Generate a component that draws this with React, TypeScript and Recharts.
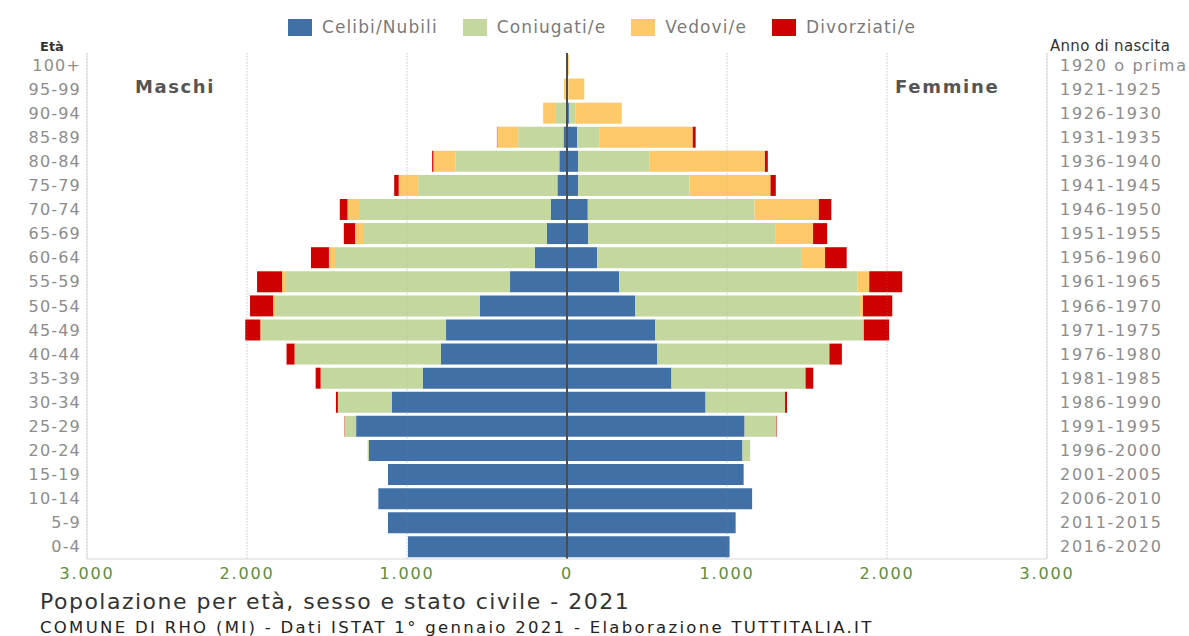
import React from 'react';
import { BarChart, Bar, XAxis, YAxis, CartesianGrid, ReferenceLine } from 'recharts';

const ages = ['100+','95-99','90-94','85-89','80-84','75-79','70-74','65-69','60-64','55-59','50-54','45-49','40-44','35-39','30-34','25-29','20-24','15-19','10-14','5-9','0-4'];
const births = ['1920 o prima','1921-1925','1926-1930','1931-1935','1936-1940','1941-1945','1946-1950','1951-1955','1956-1960','1961-1965','1966-1970','1971-1975','1976-1980','1981-1985','1986-1990','1991-1995','1996-2000','2001-2005','2006-2010','2011-2015','2016-2020'];

const maleCelibi = [0, 2, 5, 22, 48, 60, 100, 125, 200, 356, 544, 756, 788, 900, 1094, 1318, 1238, 1119, 1179, 1119, 994];
const maleConiugati = [0, 5, 69, 283, 650, 870, 1200, 1150, 1250, 1400, 1281, 1156, 912, 638, 338, 72, 8, 0, 0, 0, 0];
const maleVedovi = [2, 12, 75, 131, 137, 122, 72, 50, 38, 25, 12, 5, 3, 2, 0, 0, 0, 0, 0, 0, 0];
const maleDivorziati = [0, 0, 0, 2, 8, 28, 48, 70, 112, 156, 144, 94, 50, 31, 12, 2, 0, 0, 0, 0, 0];

const femCelibi = [1, 5, 12, 63, 70, 70, 130, 133, 188, 326, 427, 552, 565, 653, 866, 1110, 1097, 1104, 1157, 1054, 1016];
const femConiugati = [0, 3, 40, 138, 444, 695, 1042, 1172, 1275, 1488, 1405, 1298, 1072, 836, 497, 198, 48, 0, 0, 0, 0];
const femVedovi = [10, 100, 290, 585, 723, 507, 402, 233, 150, 75, 18, 5, 3, 2, 0, 0, 0, 0, 0, 0, 0];
const femDivorziati = [0, 0, 0, 18, 18, 33, 78, 88, 135, 206, 183, 158, 78, 48, 12, 3, 0, 0, 0, 0, 0];

const xTicks = [-3000, -2000, -1000, 0, 1000, 2000, 3000];
const innerGrid = [-2000, -1000, 1000, 2000];

const COLORS = {
  celibi: '#4070a6',
  coniugati: '#c4d79e',
  vedovi: '#fdc867',
  divorziati: '#cf0000',
};

const legendItems = [
  { label: 'Celibi/Nubili', color: COLORS.celibi },
  { label: 'Coniugati/e', color: COLORS.coniugati },
  { label: 'Vedovi/e', color: COLORS.vedovi },
  { label: 'Divorziati/e', color: COLORS.divorziati },
];

const data = ages.map((age, i) => ({
  age,
  anno: births[i],
  mCel: -maleCelibi[i],
  mCon: -maleConiugati[i],
  mVed: -maleVedovi[i],
  mDiv: -maleDivorziati[i],
  fCel: femCelibi[i],
  fCon: femConiugati[i],
  fVed: femVedovi[i],
  fDiv: femDivorziati[i],
}));

const FONT = '"DejaVu Sans", "Liberation Sans", Arial, sans-serif';

const fmt = (v: number) => String(Math.abs(v)).replace(/\B(?=(\d{3})+(?!\d))/g, '.');

const LeftTick = (props: any) => {
  const { x, y, payload } = props;
  return (
    <text x={x} y={y} dy={5.5} textAnchor="end" fill="#8c8c8c" fontSize={16} fontFamily={FONT} style={{ letterSpacing: '1.2px' }}>
      {payload.value}
    </text>
  );
};

const RightTick = (props: any) => {
  const { x, y, payload } = props;
  return (
    <text x={x} y={y} dy={5.5} textAnchor="start" fill="#8c8c8c" fontSize={16} fontFamily={FONT} style={{ letterSpacing: '1.7px' }}>
      {payload.value}
    </text>
  );
};

const BottomTick = (props: any) => {
  const { x, y, payload } = props;
  return (
    <text x={x} y={y} dy={12} textAnchor="middle" fill="#5b8d3e" fontSize={16} fontFamily={FONT} style={{ letterSpacing: '1.8px' }}>
      {fmt(payload.value)}
    </text>
  );
};

const abs: React.CSSProperties = { position: 'absolute', whiteSpace: 'nowrap', fontFamily: FONT };

export default function App() {
  return (
    <div style={{ position: 'absolute', left: 0, top: 0, width: 1189, height: 636, background: '#fff', overflow: 'hidden' }}>
      <div style={{ ...abs, left: 288, top: 18, height: 18, display: 'flex', alignItems: 'center' }}>
        {legendItems.map((it, i) => (
          <div key={it.label} style={{ display: 'flex', alignItems: 'center', marginRight: i < 3 ? 25 : 0 }}>
            <div style={{ width: 24, height: 17, background: it.color, marginRight: 10 }} />
            <span style={{ fontSize: 17, color: '#7a7a7a', letterSpacing: '1.1px', lineHeight: '18px' }}>{it.label}</span>
          </div>
        ))}
      </div>

      <BarChart
        width={1189}
        height={636}
        data={data}
        layout="vertical"
        stackOffset="sign"
        barCategoryGap="6%"
        margin={{ top: 53, right: 0, bottom: 47, left: 0 }}
      >
        <CartesianGrid horizontal={false} vertical={true} stroke="#c8c8c8" strokeDasharray="1 2" />
        <XAxis
          type="number"
          domain={[-3000, 3000]}
          ticks={xTicks}
          interval={0}
          tickLine={false}
          tickSize={0}
          tickMargin={8}
          height={30}
          axisLine={{ stroke: '#d6d6d6' }}
          tick={<BottomTick />}
        />
        <YAxis
          type="category"
          dataKey="age"
          width={87}
          tickLine={false}
          tickSize={0}
          tickMargin={6}
          interval={0}
          axisLine={{ stroke: '#d6d6d6' }}
          tick={<LeftTick />}
        />
        <YAxis
          yAxisId="right"
          type="category"
          dataKey="anno"
          orientation="right"
          width={142}
          tickLine={false}
          tickSize={0}
          tickMargin={13}
          interval={0}
          axisLine={{ stroke: '#d6d6d6' }}
          tick={<RightTick />}
        />
        <Bar dataKey="mCel" stackId="a" fill={COLORS.celibi} isAnimationActive={false} />
        <Bar dataKey="mCon" stackId="a" fill={COLORS.coniugati} isAnimationActive={false} />
        <Bar dataKey="mVed" stackId="a" fill={COLORS.vedovi} isAnimationActive={false} />
        <Bar dataKey="mDiv" stackId="a" fill={COLORS.divorziati} isAnimationActive={false} />
        <Bar dataKey="fCel" stackId="a" fill={COLORS.celibi} isAnimationActive={false} />
        <Bar dataKey="fCon" stackId="a" fill={COLORS.coniugati} isAnimationActive={false} />
        <Bar dataKey="fVed" stackId="a" fill={COLORS.vedovi} isAnimationActive={false} />
        <Bar dataKey="fDiv" stackId="a" fill={COLORS.divorziati} isAnimationActive={false} />
        {innerGrid.map((g) => (
          <ReferenceLine key={g} x={g} stroke="#9a9a9a" strokeOpacity={0.3} strokeDasharray="1 2" />
        ))}
        <ReferenceLine x={0} stroke="#4d4d4d" strokeWidth={2} />
      </BarChart>

      <div style={{ ...abs, left: 40, top: 40, fontSize: 13, fontWeight: 'bold', color: '#333', lineHeight: '13px' }}>Età</div>
      <div style={{ ...abs, left: 1050, top: 39, fontSize: 15, color: '#333', lineHeight: '15px', letterSpacing: '0.3px' }}>Anno di nascita</div>
      <div style={{ ...abs, left: 135, top: 78, fontSize: 18, fontWeight: 'bold', color: '#555', lineHeight: '18px', letterSpacing: '1.6px' }}>Maschi</div>
      <div style={{ ...abs, left: 895, top: 78, fontSize: 18, fontWeight: 'bold', color: '#555', lineHeight: '18px', letterSpacing: '1.7px' }}>Femmine</div>

      <div style={{ ...abs, left: 40, top: 591, fontSize: 22, color: '#333', lineHeight: '22px', letterSpacing: '1.5px' }}>
        Popolazione per età, sesso e stato civile - 2021
      </div>
      <div style={{ ...abs, left: 40, top: 620, fontSize: 16.5, color: '#222', lineHeight: '16px', letterSpacing: '2.3px' }}>
        COMUNE DI RHO (MI) - Dati ISTAT 1° gennaio 2021 - Elaborazione TUTTITALIA.IT
      </div>
    </div>
  );
}
